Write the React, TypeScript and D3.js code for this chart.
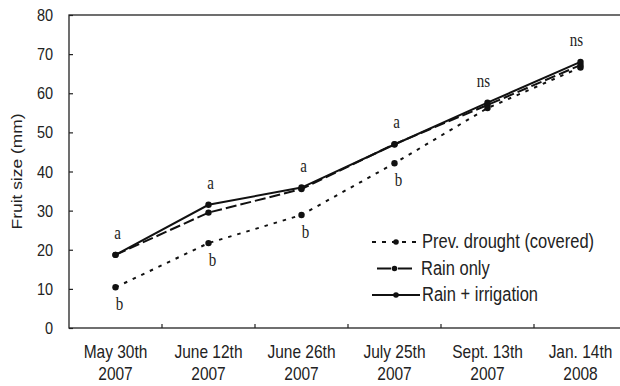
import React, { useRef, useEffect } from 'react';
import * as d3 from 'd3';

const dates = ["May 30th|2007", "June 12th|2007", "June 26th|2007", "July 25th|2007", "Sept. 13th|2007", "Jan. 14th|2008"];
const drought = [10.4, 21.7, 28.9, 42.1, 56.2, 66.6];
const rainOnly = [18.7, 29.5, 35.5, 47.0, 57.0, 67.2];
const rainIrrigation = [18.7, 31.5, 35.9, 46.9, 57.6, 68.0];
const upperLetters = ["a", "a", "a", "a", "ns", "ns"];
const lowerLetters = ["b", "b", "b", "b", "", ""];
const yTicks = [0, 10, 20, 30, 40, 50, 60, 70, 80];

const series = [
    { name: "Prev. drought (covered)", values: drought, dash: "3.5,6", legendDash: "4,6" },
    { name: "Rain only", values: rainOnly, dash: "11,4", legendDash: "14,3,1,3" },
    { name: "Rain + irrigation", values: rainIrrigation, dash: null, legendDash: null },
];

const SANS = "Liberation Sans, Arial, sans-serif";
const SERIF = "Liberation Serif, Times New Roman, serif";
const STRETCH = 1.2; // the original figure is squashed horizontally

const App = () => {
    const ref = useRef<SVGSVGElement>(null);

    useEffect(() => {
        document.body.style.margin = "0";
        const svg = d3.select(ref.current);
        svg.selectAll("*").remove();

        const width = 620;
        const height = 386;
        const margin = { top: 15, right: -7, bottom: 58, left: 69 };

        const x = d3.scaleBand()
            .domain(dates)
            .range([margin.left, width - margin.right]);
        const cx = (d: string) => x(d)! + x.bandwidth() / 2;

        const y = d3.scaleLinear()
            .domain([0, 80])
            .range([height - margin.bottom, margin.top]);

        // frame
        svg.append("rect")
            .attr("x", margin.left)
            .attr("y", margin.top)
            .attr("width", width - margin.right - margin.left)
            .attr("height", y(0) - margin.top)
            .attr("fill", "none")
            .attr("stroke", "#222")
            .attr("stroke-width", 1.3);

        // y axis (inward ticks)
        const yAxis = svg.append("g")
            .attr("transform", `translate(${margin.left},0)`)
            .call(d3.axisLeft(y).tickValues(yTicks).tickSize(-4).tickPadding(16));
        yAxis.select(".domain").remove();
        yAxis.selectAll("line").attr("stroke", "#222").attr("stroke-width", 1.2);
        yAxis.selectAll("text")
            .attr("font-family", SANS)
            .attr("font-size", 14.5)
            .attr("fill", "#222")
            .attr("transform", `scale(1,${STRETCH})`);

        // x axis ticks at band edges
        svg.append("g")
            .selectAll("line")
            .data(dates.slice(1))
            .enter().append("line")
            .attr("x1", d => x(d)!)
            .attr("x2", d => x(d)!)
            .attr("y1", y(0))
            .attr("y2", y(0) - 4)
            .attr("stroke", "#222")
            .attr("stroke-width", 1.2);

        const xLabels = svg.append("g")
            .selectAll("text")
            .data(dates)
            .enter().append("text")
            .attr("transform", d => `translate(${cx(d)},${y(0) + 30}) scale(1,${STRETCH})`)
            .attr("text-anchor", "middle")
            .attr("font-family", SANS)
            .attr("font-size", 15.5)
            .attr("fill", "#222");
        xLabels.append("tspan").attr("x", 0).text(d => d.split("|")[0]);
        xLabels.append("tspan").attr("x", 0).attr("dy", 18).text(d => d.split("|")[1]);

        // y axis title
        svg.append("text")
            .attr("transform", `translate(22,${(margin.top + y(0)) / 2}) scale(1,${STRETCH}) rotate(-90)`)
            .attr("text-anchor", "middle")
            .attr("font-family", SANS)
            .attr("font-size", 14.5)
            .attr("fill", "#222")
            .text("Fruit size (mm)");

        // lines
        const line = d3.line<number>()
            .x((d, i) => cx(dates[i]))
            .y(d => y(d));

        series.forEach(s => {
            svg.append("path")
                .datum(s.values)
                .attr("d", line)
                .attr("fill", "none")
                .attr("stroke", "#111")
                .attr("stroke-width", 2)
                .attr("stroke-dasharray", s.dash);
            svg.append("g")
                .selectAll("circle")
                .data(s.values)
                .enter().append("circle")
                .attr("cx", (d, i) => cx(dates[i]))
                .attr("cy", d => y(d))
                .attr("r", 3.2)
                .attr("fill", "#111");
        });

        // significance letters
        svg.append("g")
            .selectAll("text")
            .data(upperLetters)
            .enter().append("text")
            .attr("transform", (d, i) =>
                `translate(${cx(dates[i]) + (d === "ns" ? -4 : 2)},${y(Math.max(rainIrrigation[i], rainOnly[i])) - 16}) scale(1,${STRETCH})`)
            .attr("text-anchor", "middle")
            .attr("font-family", SERIF)
            .attr("font-size", 15)
            .attr("fill", "#222")
            .text(d => d);

        svg.append("g")
            .selectAll("text")
            .data(lowerLetters)
            .enter().append("text")
            .attr("transform", (d, i) => `translate(${cx(dates[i]) + 4},${y(drought[i]) + 23}) scale(1,${STRETCH})`)
            .attr("text-anchor", "middle")
            .attr("font-family", SERIF)
            .attr("font-size", 15)
            .attr("fill", "#222")
            .text(d => d);

        // legend
        const legend = svg.append("g").attr("transform", "translate(372,242)");
        series.forEach((s, i) => {
            const row = legend.append("g").attr("transform", `translate(0,${i * 26.5})`);
            const short = i === 1;
            row.append("line")
                .attr("x1", short ? 5 : 0).attr("x2", short ? 40 : 48)
                .attr("y1", 0).attr("y2", 0)
                .attr("stroke", "#111")
                .attr("stroke-width", 2)
                .attr("stroke-dasharray", s.legendDash);
            row.append("circle").attr("cx", short ? 22.5 : 24).attr("cy", 0).attr("r", 2.8).attr("fill", "#111");
            row.append("text")
                .attr("transform", `translate(${short ? 49 : 50},6) scale(1,${STRETCH})`)
                .attr("font-family", SANS)
                .attr("font-size", 16.5)
                .attr("fill", "#222")
                .text(s.name);
        });
    }, []);

    return <svg ref={ref} width={620} height={386} style={{ display: "block" }}></svg>;
};

export default App;
